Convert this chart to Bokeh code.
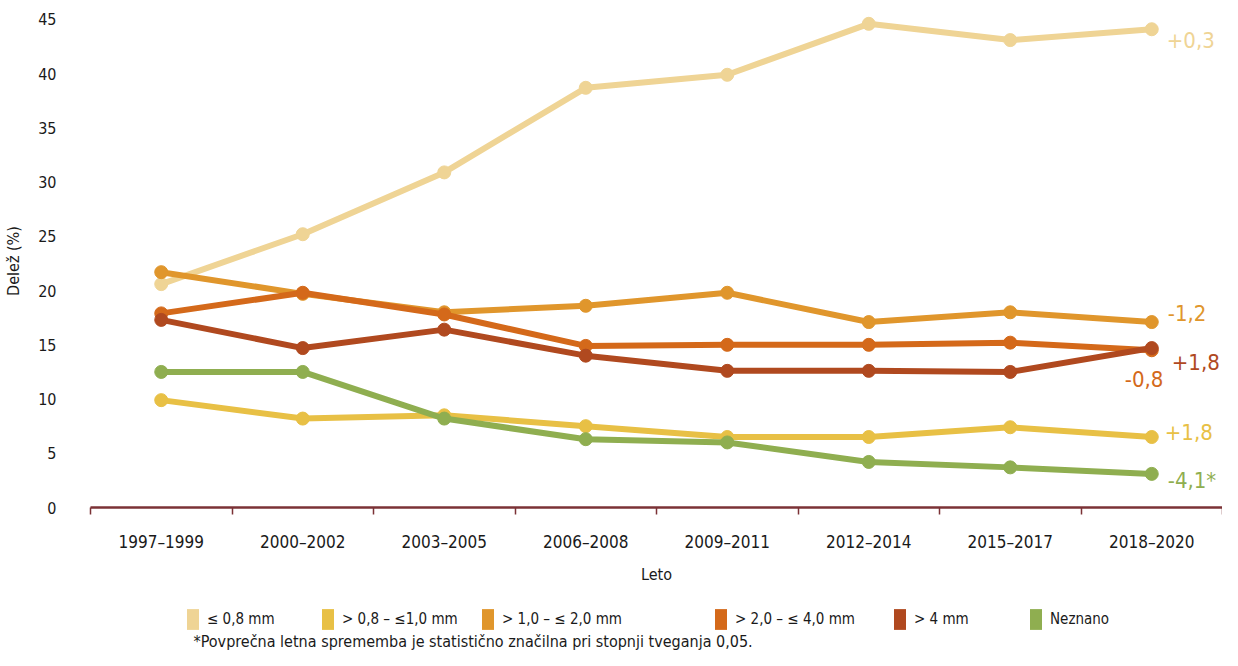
from bokeh.plotting import figure
from bokeh.layouts import column
from bokeh.models import (Range1d, FixedTicker, Legend, LegendItem, Label, LinearAxis)
from bokeh.core.properties import value
from bokeh.embed import file_html
from bokeh.resources import INLINE

categories = ["1997–1999", "2000–2002", "2003–2005", "2006–2008",
              "2009–2011", "2012–2014", "2015–2017", "2018–2020"]
series_names = ["≤ 0,8 mm", "> 0,8 – ≤1,0 mm", "> 1,0 – ≤ 2,0 mm",
                "> 2,0 – ≤ 4,0 mm", "> 4 mm", "Neznano"]
le_08 = [20.6, 25.2, 30.9, 38.7, 39.9, 44.6, 43.1, 44.1]
s08_10 = [9.9, 8.2, 8.5, 7.5, 6.5, 6.5, 7.4, 6.5]
s10_20 = [21.7, 19.7, 18.0, 18.6, 19.8, 17.1, 18.0, 17.1]
s20_40 = [17.9, 19.8, 17.8, 14.9, 15.0, 15.0, 15.2, 14.5]
gt4 = [17.3, 14.7, 16.4, 14.0, 12.6, 12.6, 12.5, 14.7]
neznano = [12.5, 12.5, 8.2, 6.3, 6.0, 4.2, 3.7, 3.1]
trends = ["+0,3", "+1,8", "-1,2", "-0,8", "+1,8", "-4,1*"]
y_ticks = [0, 5, 10, 15, 20, 25, 30, 35, 40, 45]
footnote = "*Povprečna letna sprememba je statistično značilna pri stopnji tveganja 0,05."

colors = ["#EFD495", "#E8C045", "#E0962C", "#D4691A", "#B0491F", "#8FAE50"]
series = [le_08, s08_10, s10_20, s20_40, gt4, neznano]
# label offsets (pixels) relative to the last point
label_offsets = [(15, 11), (13, -5), (16, -9), (-27, 29), (20, 14), (16, 7)]
# legend item left positions (pixels from plot frame's left edge)
legend_x = [95, 230, 390, 623, 802, 938]

FONT = "DejaVu Sans Condensed"
TXT = "#1a1a1a"

xs = list(range(len(categories)))

p = figure(width=1222, height=592, output_backend="svg", toolbar_location=None,
           x_range=Range1d(-0.5, 7.5), y_range=Range1d(0, 45.46),
           min_border_left=90, min_border_right=0, min_border_top=14,
           min_border_bottom=85, x_axis_type=None, y_axis_type=None)
p.outline_line_color = None

# axes
xaxis = LinearAxis(ticker=FixedTicker(ticks=xs, minor_ticks=[i - 0.5 for i in range(len(categories) + 1)]))
xaxis.major_label_overrides = {i: c for i, c in enumerate(categories)}
xaxis.major_tick_out = 0
xaxis.major_tick_in = 0
xaxis.minor_tick_out = 7
xaxis.minor_tick_in = 0
xaxis.minor_tick_line_color = "#7B3236"
xaxis.minor_tick_line_width = 1.5
xaxis.axis_line_color = "#7B3236"
xaxis.axis_line_width = 2.5
xaxis.major_label_standoff = 17
xaxis.major_label_text_font = FONT
xaxis.major_label_text_font_size = "17px"
xaxis.major_label_text_color = TXT
xaxis.axis_label = "Leto"
xaxis.axis_label_text_font = FONT
xaxis.axis_label_text_font_size = "16px"
xaxis.axis_label_text_font_style = "normal"
xaxis.axis_label_text_color = TXT
xaxis.axis_label_standoff = 10
p.add_layout(xaxis, "below")

yaxis = LinearAxis(ticker=FixedTicker(ticks=y_ticks))
yaxis.axis_line_color = None
yaxis.major_tick_line_color = None
yaxis.minor_tick_line_color = None
yaxis.major_label_standoff = 28
yaxis.major_label_text_font = FONT
yaxis.major_label_text_font_size = "16px"
yaxis.major_label_text_color = TXT
yaxis.axis_label = "Delež (%)"
yaxis.axis_label_text_font = FONT
yaxis.axis_label_text_font_size = "16px"
yaxis.axis_label_text_font_style = "normal"
yaxis.axis_label_text_color = TXT
yaxis.axis_label_standoff = 12
p.add_layout(yaxis, "left")

p.xgrid.visible = False
p.ygrid.ticker = FixedTicker(ticks=y_ticks[1:])
p.ygrid.grid_line_color = "#9A6A72"
p.ygrid.grid_line_alpha = 0.85
p.ygrid.grid_line_width = 1.3
p.ygrid.grid_line_dash = "6 4"

# lines
for vals, col in zip(series, colors):
    p.line(xs, vals, line_color=col, line_width=6)
    p.scatter(xs, vals, size=13, fill_color=col, line_color=col)

# trend labels
for vals, col, t, (dx, dy) in zip(series, colors, trends, label_offsets):
    p.text(x=[xs[-1]], y=[vals[-1]], text=[t], x_offset=dx, y_offset=dy,
           text_align="left", text_baseline="middle", text_color=col,
           text_font=value(FONT), text_font_size="22px")

# legend + footnote figure
q = figure(width=1222, height=58, output_backend="svg", toolbar_location=None,
           x_range=Range1d(0, 1), y_range=Range1d(0, 1),
           min_border_left=90, min_border_right=0, min_border_top=0, min_border_bottom=0,
           x_axis_type=None, y_axis_type=None)
q.outline_line_color = None
q.xgrid.visible = False
q.ygrid.visible = False

nan = float("nan")
for name, col, lx in zip(series_names, colors, legend_x):
    r = q.quad(left=[nan], right=[nan], top=[nan], bottom=[nan], fill_color=col, line_color=None)
    lg = Legend(items=[LegendItem(label=name, renderers=[r])], orientation="horizontal",
                location=(lx, 18), glyph_width=15, glyph_height=26, label_standoff=7,
                padding=0, margin=0, border_line_color=None, background_fill_alpha=0,
                label_text_font=FONT, label_text_font_size="15px", label_text_color=TXT)
    q.add_layout(lg, "center")

q.add_layout(Label(x=103, y=9, x_units="screen", y_units="screen", text=footnote,
                   text_font=FONT, text_font_size="16px", text_color=TXT,
                   text_baseline="middle", text_align="left"))

layout = column(p, q, spacing=0)
open("out.html", "w").write(file_html(layout, INLINE))
